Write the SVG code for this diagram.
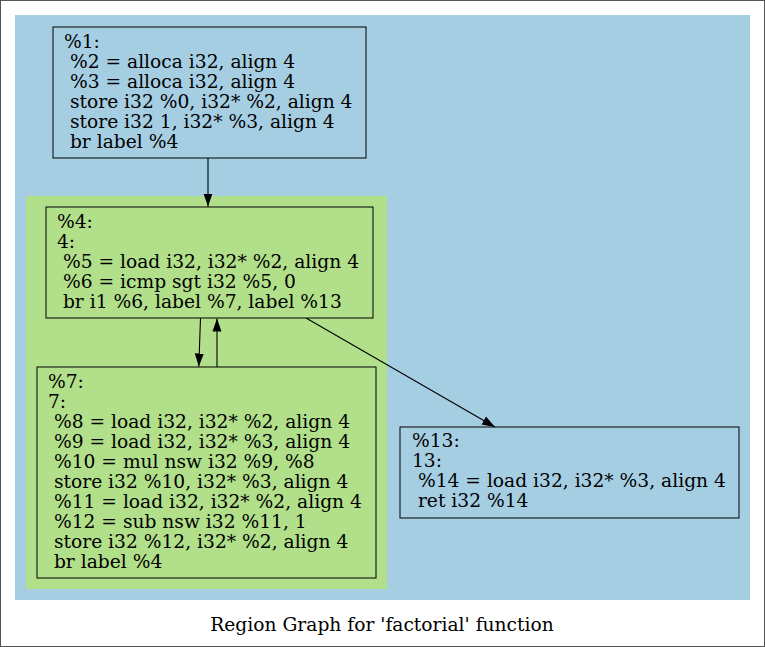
<svg xmlns="http://www.w3.org/2000/svg" width="765" height="647" viewBox="0 0 765 647">
<style>
text{font-family:"DejaVu Serif","Liberation Serif",serif;font-size:18.67px;fill:#000}
.node rect{stroke:#000;stroke-width:1}
.edge{stroke:#000;stroke-width:1.1;fill:none}
</style>
<defs>
<marker id="ah" viewBox="0 0 13 10" refX="13" refY="5" markerWidth="13" markerHeight="10" markerUnits="userSpaceOnUse" orient="auto">
<path d="M0,0.5 L13,5 L0,9.5 Z" fill="#000"/>
</marker>
</defs>
<rect x="0.5" y="0.5" width="764" height="646" fill="#fff" stroke="#555"/>
<rect x="15" y="15" width="735" height="585" fill="#a6cee3"/>
<rect x="26" y="196" width="361" height="393" fill="#b2df8a"/>
<g id="connectors">
<path class="edge" d="M208,158 L208,206.5" marker-end="url(#ah)"/>
<path class="edge" d="M200.5,318 L198.8,366.5" marker-end="url(#ah)"/>
<path class="edge" d="M217,367 L217,318.5" marker-end="url(#ah)"/>
<path class="edge" d="M306,318 L495,427" marker-end="url(#ah)"/>
</g>
<g id="n1" class="node">
<rect x="53" y="27" width="313" height="131" fill="#a6cee3"/>
<text xml:space="preserve"><tspan x="64" y="48">%1:</tspan><tspan x="64" y="68"> %2 = alloca i32, align 4</tspan><tspan x="64" y="88"> %3 = alloca i32, align 4</tspan><tspan x="64" y="108"> store i32 %0, i32* %2, align 4</tspan><tspan x="64" y="128"> store i32 1, i32* %3, align 4</tspan><tspan x="64" y="148"> br label %4</tspan></text>
</g>
<g id="n4" class="node">
<rect x="46" y="207" width="327" height="111" fill="#b2df8a"/>
<text xml:space="preserve"><tspan x="57" y="228">%4:</tspan><tspan x="57" y="248">4:</tspan><tspan x="57" y="268"> %5 = load i32, i32* %2, align 4</tspan><tspan x="57" y="288"> %6 = icmp sgt i32 %5, 0</tspan><tspan x="57" y="308"> br i1 %6, label %7, label %13</tspan></text>
</g>
<g id="n7" class="node">
<rect x="37" y="367" width="339" height="211" fill="#b2df8a"/>
<text xml:space="preserve"><tspan x="48" y="388">%7:</tspan><tspan x="48" y="408">7:</tspan><tspan x="48" y="428"> %8 = load i32, i32* %2, align 4</tspan><tspan x="48" y="448"> %9 = load i32, i32* %3, align 4</tspan><tspan x="48" y="468"> %10 = mul nsw i32 %9, %8</tspan><tspan x="48" y="488"> store i32 %10, i32* %3, align 4</tspan><tspan x="48" y="508"> %11 = load i32, i32* %2, align 4</tspan><tspan x="48" y="528"> %12 = sub nsw i32 %11, 1</tspan><tspan x="48" y="548"> store i32 %12, i32* %2, align 4</tspan><tspan x="48" y="568"> br label %4</tspan></text>
</g>
<g id="n13" class="node">
<rect x="400" y="427" width="339" height="91" fill="#a6cee3"/>
<text xml:space="preserve"><tspan x="412" y="447">%13:</tspan><tspan x="412" y="467">13:</tspan><tspan x="412" y="487"> %14 = load i32, i32* %3, align 4</tspan><tspan x="412" y="507"> ret i32 %14</tspan></text>
</g>
<text x="382" y="631" text-anchor="middle">Region Graph for 'factorial' function</text>
</svg>
